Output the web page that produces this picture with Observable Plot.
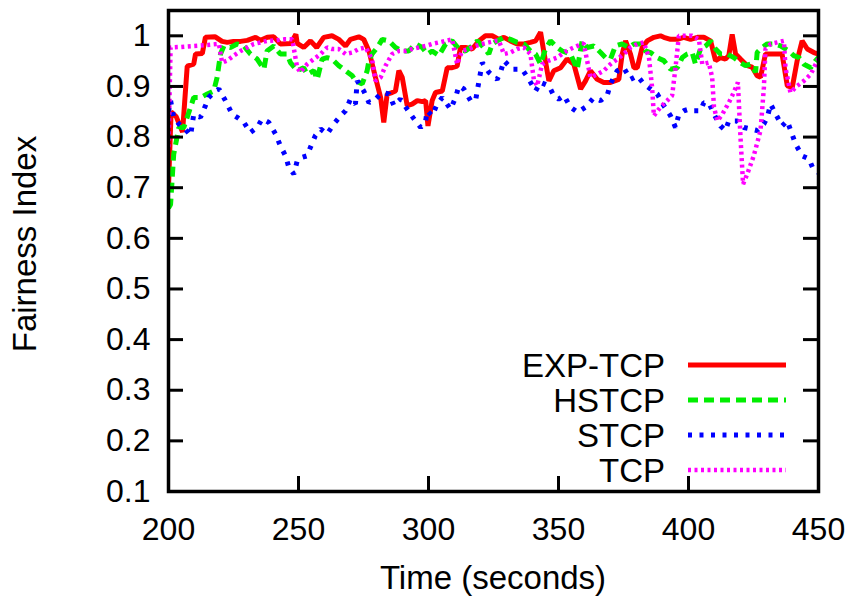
<!DOCTYPE html>
<html><head><meta charset="utf-8">
<script src="https://cdn.jsdelivr.net/npm/d3@7"></script>
<script src="https://cdn.jsdelivr.net/npm/@observablehq/plot@0.6"></script>
<style>body{margin:0;background:#fff} svg{display:block}</style>
</head><body><div id="chart"></div>
<script>
// [time (s), fairness index]
const expTcp = [[200,0.70],[201,0.85],[203,0.84],[205.4,0.81],[207.2,0.94],[209.7,0.944],[210.4,0.964],[213,0.965],[214.2,0.997],[218,0.998],[220.6,0.989],[222.6,0.987],[225,0.989],[227.7,0.989],[230.3,0.991],[233.5,0.997],[235.4,0.991],[238,0.997],[240.5,0.998],[243,0.984],[247,0.985],[249,1.003],[249.5,0.985],[252,0.977],[254.6,0.99],[257,0.977],[259.7,0.997],[262.9,1.0],[265.5,0.993],[268.1,0.98],[270,0.993],[273.2,0.998],[275.1,0.993],[277.1,0.97],[279.6,0.918],[281.6,0.878],[282.8,0.829],[284.1,0.885],[286,0.888],[287.3,0.891],[288.6,0.931],[289.9,0.918],[291.8,0.862],[293.7,0.865],[295.7,0.872],[297.6,0.87],[298.9,0.872],[299.8,0.822],[301.4,0.872],[302.7,0.888],[305.3,0.891],[307.2,0.937],[309.1,0.937],[311,0.94],[312.3,0.977],[314.2,0.977],[316.8,0.974],[319.4,0.99],[321.9,1.0],[324.5,1.0],[327.1,0.993],[329,0.997],[331.5,0.99],[334.1,0.984],[336.7,0.984],[339.2,0.987],[341.2,0.99],[343.1,1.007],[344.4,0.967],[346.3,0.911],[348.2,0.931],[350.8,0.937],[353.3,0.954],[355.9,0.944],[358.5,0.895],[360.4,0.911],[362.3,0.931],[364.9,0.914],[367.4,0.908],[370,0.908],[373.2,0.914],[374.5,0.964],[375.8,0.99],[377.7,0.964],[379,0.937],[380.3,0.937],[382.2,0.977],[384.1,0.99],[386.7,0.997],[389.2,1.0],[390.5,0.997],[393.1,0.993],[395.7,0.993],[398.2,0.997],[400.8,0.993],[403.4,0.997],[405.9,0.997],[408.5,0.99],[410.4,0.951],[412.3,0.957],[414.2,0.954],[415.5,0.961],[416.8,1.003],[418.1,0.964],[420,0.954],[422.6,0.941],[424.5,0.938],[426.4,0.921],[427.7,0.918],[429.6,0.964],[431.6,0.964],[434.1,0.964],[436,0.964],[438,0.901],[439.9,0.898],[441.8,0.951],[443.7,0.99],[445.7,0.974],[448.2,0.967],[450,0.964]];

const hstcp = [[200,0.66],[200.8,0.667],[202,0.766],[204,0.819],[205.9,0.819],[208.5,0.859],[209.7,0.878],[212.3,0.878],[214.9,0.885],[217.4,0.891],[218.7,0.918],[220,0.964],[221.3,0.98],[223.8,0.977],[226.4,0.984],[229,0.98],[231.5,0.964],[234.1,0.954],[236.7,0.934],[237.9,0.97],[240.5,0.98],[243,0.964],[245.6,0.964],[246.9,0.947],[249.5,0.931],[252,0.937],[253.3,0.924],[255.9,0.931],[257.2,0.914],[259.1,0.954],[261,0.957],[262.9,0.954],[265.5,0.941],[268.1,0.931],[270.7,0.921],[271.9,0.911],[274.5,0.905],[276.4,0.931],[277.1,0.951],[278.3,0.964],[280.3,0.977],[282.2,0.993],[284.8,0.99],[287.3,0.977],[289.9,0.97],[292.4,0.97],[295,0.984],[297.6,0.977],[299.5,0.964],[301.4,0.97],[304,0.961],[306.6,0.984],[309.1,0.99],[311.7,0.974],[314.2,0.97],[316.8,0.98],[318.7,0.99],[320.7,0.98],[323.2,0.964],[324.5,0.984],[326.4,0.99],[329,0.997],[331.5,0.993],[334.1,0.987],[336.7,0.984],[339.2,0.97],[341.2,0.964],[343.1,0.944],[345,0.974],[346.9,0.99],[349.5,0.977],[351.4,0.97],[354.6,0.964],[357.2,0.934],[359.1,0.99],[361,0.977],[363.6,0.98],[366.2,0.967],[368.1,0.957],[370,0.954],[371.9,0.98],[374.5,0.984],[377.1,0.977],[379,0.984],[381.5,0.984],[383.5,0.97],[385.4,0.967],[388,0.957],[390.5,0.951],[393.1,0.934],[395.7,0.937],[397.6,0.957],[399.5,0.964],[401.4,0.967],[402.7,0.944],[404.6,0.974],[406.6,0.98],[408.5,0.99],[410.4,0.974],[412.3,0.964],[414.9,0.964],[417.4,0.957],[420,0.947],[421.9,0.941],[423.9,0.944],[425.8,0.928],[426.4,0.967],[428.3,0.977],[430.3,0.984],[432.8,0.984],[435.4,0.98],[438.6,0.97],[440.5,0.961],[442.5,0.957],[444.4,0.944],[447,0.937],[448.9,0.951],[450,0.957]];

const stcp = [[200,0.85],[200.8,0.872],[202,0.839],[204,0.826],[205.9,0.819],[208.5,0.803],[209.7,0.845],[212.3,0.839],[214.2,0.862],[215.4,0.878],[217.4,0.888],[219.4,0.895],[221.9,0.872],[224.5,0.845],[226.4,0.839],[229,0.829],[231.5,0.809],[234.1,0.819],[236,0.836],[238.6,0.829],[241.2,0.806],[243,0.783],[245,0.763],[246.3,0.74],[248.2,0.727],[249.5,0.753],[251.4,0.76],[253.3,0.763],[254.6,0.78],[256.5,0.803],[258.5,0.816],[261,0.806],[263.6,0.826],[266.2,0.842],[268.1,0.852],[270,0.875],[271.9,0.865],[272.6,0.911],[275.1,0.891],[277.1,0.868],[279.6,0.875],[282.2,0.888],[284.8,0.885],[286.7,0.862],[289.2,0.875],[291.8,0.855],[294.4,0.836],[297,0.819],[298.9,0.832],[299.5,0.852],[301.4,0.842],[303.3,0.865],[305.3,0.878],[308.5,0.855],[310.4,0.878],[311.7,0.901],[313.6,0.895],[316.2,0.872],[318.1,0.872],[319.4,0.91],[320.7,0.947],[323.2,0.928],[326.4,0.914],[327.7,0.928],[329,0.951],[332.2,0.934],[336,0.934],[338.6,0.914],[341.2,0.891],[343.1,0.908],[346.3,0.901],[348.2,0.882],[350.1,0.875],[352.1,0.882],[354.6,0.859],[357.4,0.849],[360.4,0.859],[363.6,0.878],[366.2,0.872],[368.7,0.882],[370,0.905],[372.6,0.931],[375.1,0.937],[377.7,0.914],[380.3,0.921],[382.8,0.905],[385.4,0.895],[388,0.885],[390.5,0.862],[393.1,0.842],[395,0.819],[396.3,0.845],[398.2,0.852],[400.1,0.855],[402.1,0.852],[404.6,0.852],[405.9,0.868],[407.8,0.868],[409.8,0.845],[412.3,0.822],[414.2,0.813],[415.5,0.832],[418.7,0.832],[421.3,0.819],[423.9,0.816],[426.4,0.813],[429,0.826],[430.3,0.839],[431.6,0.865],[433.9,0.842],[436,0.822],[438,0.832],[441.2,0.786],[443.7,0.763],[446.3,0.757],[448.2,0.734],[450,0.73]];

const tcp = [[200,0.78],[200.8,0.977],[204.6,0.978],[209.7,0.98],[214.9,0.982],[219.4,0.984],[220.6,0.947],[222.6,0.951],[225.1,0.961],[227.7,0.97],[230.3,0.977],[232.8,0.984],[235.4,0.987],[237.9,0.99],[241.2,0.991],[244.4,0.993],[247.6,0.993],[249.5,0.937],[250.8,0.928],[253.3,0.944],[255.9,0.954],[258.5,0.964],[261,0.977],[262.9,0.974],[265.5,0.974],[268.1,0.964],[270.7,0.967],[273.2,0.974],[275.8,0.977],[278.3,0.954],[279.6,0.911],[281.6,0.918],[283.5,0.941],[286,0.964],[288.6,0.97],[291.2,0.97],[293.7,0.974],[296.3,0.977],[298.9,0.98],[301.4,0.984],[304,0.987],[306.6,0.99],[309.1,0.993],[311,0.944],[312.9,0.97],[315.5,0.974],[318.1,0.98],[320.7,0.984],[323.2,0.987],[325.8,0.99],[327.1,0.99],[329,0.964],[331.5,0.967],[334.1,0.974],[336.7,0.977],[339.2,0.964],[340.5,0.914],[341.8,0.901],[343.7,0.944],[346.3,0.951],[349.5,0.957],[352.1,0.967],[354.6,0.974],[357.2,0.98],[359.7,0.985],[361,0.951],[362.3,0.918],[364.9,0.924],[367.4,0.931],[370,0.944],[372.6,0.954],[375.1,0.964],[377.7,0.977],[380.3,0.984],[382.8,0.987],[384.8,0.957],[386,0.898],[386.7,0.842],[389.2,0.859],[391.8,0.872],[393.7,0.882],[395,0.937],[396.3,1.0],[398.9,1.0],[401.4,1.0],[404,0.993],[405.3,0.944],[407.8,0.947],[409.1,0.918],[409.8,0.859],[411.1,0.832],[413,0.845],[415.5,0.868],[417.4,0.888],[419,0.908],[420,0.799],[421,0.707],[422.6,0.727],[425.1,0.763],[427.7,0.813],[429,0.898],[429.6,0.974],[431.6,0.984],[434.1,0.987],[436.7,0.99],[437.3,0.937],[439.2,0.888],[441.8,0.901],[444.4,0.911],[447,0.924],[448.9,0.944],[450,0.954]];

const seriesNames = ["EXP-TCP", "HSTCP", "STCP", "TCP"];
const xTicks = [200, 250, 300, 350, 400, 450];
const yTicks = [0.1, 0.2, 0.3, 0.4, 0.5, 0.6, 0.7, 0.8, 0.9, 1.0];

const styles = [
  {data: expTcp, color: "#ff0000", width: 5, dash: null},
  {data: hstcp,  color: "#00ee00", width: 5, dash: "10,6"},
  {data: stcp,   color: "#0000ff", width: 5, dash: "4,7.5"},
  {data: tcp,    color: "#ff00ff", width: 4.5, dash: "3,3.5"}
];

const W = 856, H = 600, mL = 168, mR = 38, mT = 10, mB = 109;
const plotW = W - mL - mR, plotH = H - mT - mB;
const tickLen = 15;
const font = "'Liberation Sans', Arial, Helvetica, sans-serif";

const marks = [];
styles.forEach(s => marks.push(Plot.line(s.data, {
  x: d => d[0], y: d => d[1], stroke: s.color, strokeWidth: s.width,
  strokeDasharray: s.dash, strokeLinecap: "butt", strokeLinejoin: "miter", clip: true
})));
marks.push(
  Plot.tickY(yTicks, {y: d => d, stroke: "black", strokeWidth: 3, insetRight: plotW - tickLen}),
  Plot.tickY(yTicks, {y: d => d, stroke: "black", strokeWidth: 3, insetLeft: plotW - tickLen}),
  Plot.tickX(xTicks, {x: d => d, stroke: "black", strokeWidth: 3, insetTop: plotH - tickLen}),
  Plot.tickX(xTicks, {x: d => d, stroke: "black", strokeWidth: 3, insetBottom: plotH - tickLen}),
  Plot.axisX(xTicks, {tickSize: 0, tickPadding: 26, label: null, tickFormat: d => String(d)}),
  Plot.axisY(yTicks, {tickSize: 0, tickPadding: 18, label: null, tickFormat: d => String(+d.toFixed(1))}),
  Plot.frame({stroke: "black", strokeWidth: 3.5})
);

const svg = Plot.plot({
  width: W, height: H,
  marginLeft: mL, marginRight: mR, marginTop: mT, marginBottom: mB,
  x: {domain: [200, 450]},
  y: {domain: [0.1, 1.05]},
  style: {fontFamily: font, fontSize: "32px", color: "black", background: "white"},
  marks
});

const s = d3.select(svg);
s.append("text")
  .attr("transform", `translate(36,244) rotate(-90)`)
  .attr("text-anchor", "middle")
  .style("font-family", font).style("font-size", "33px").attr("fill", "black")
  .text("Fairness Index");
s.append("text")
  .attr("x", mL + plotW / 2).attr("y", 589)
  .attr("text-anchor", "middle")
  .style("font-family", font).style("font-size", "33px").attr("fill", "black")
  .text("Time (seconds)");

const leg = s.append("g");
seriesNames.forEach((name, i) => {
  const y = 365 + i * 35;
  const st = styles[i];
  leg.append("text").attr("x", 665).attr("y", y + 11.5).attr("text-anchor", "end")
    .style("font-family", font).style("font-size", "33px").attr("fill", "black").text(name);
  const ln = leg.append("line").attr("x1", 688).attr("x2", 786).attr("y1", y).attr("y2", y)
    .attr("stroke", st.color).attr("stroke-width", st.width).attr("stroke-linecap", "butt");
  if (st.dash) ln.attr("stroke-dasharray", st.dash);
});

document.getElementById("chart").appendChild(svg);
</script>
</body></html>
